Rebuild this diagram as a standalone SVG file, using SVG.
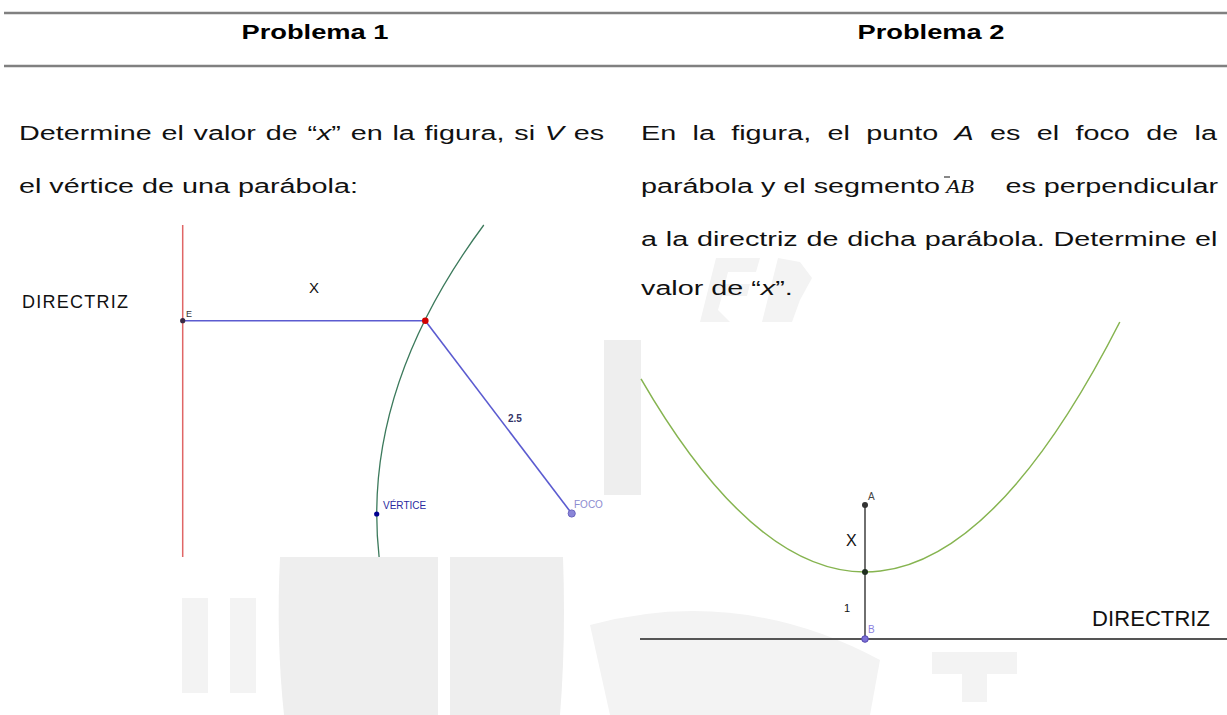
<svg xmlns="http://www.w3.org/2000/svg" width="1227" height="715" viewBox="0 0 1227 715">
<style>
.hd{font:bold 21px "Liberation Sans",Arial,sans-serif;fill:#000}
.bt{font:21px "Liberation Sans",Arial,sans-serif;fill:#111}
.rule{stroke:#808080;stroke-width:2.5}
.wm{fill:#eeeeee}
.wl{fill:#f3f3f3}
.lbl{font-family:"Liberation Sans",Arial,sans-serif}
.seg{stroke:#5b5bd0;stroke-width:1.6;fill:none}
</style>
<rect width="1227" height="715" fill="#fff"/>
<g id="watermark">
<rect class="wm" x="604" y="340" width="37" height="155"/>
<path class="wl" d="M700,322 L716,258 L760,258 L756,272 L728,272 L725,284 L750,284 L747,296 L722,296 L718,310 L730,322 Z"/>
<path class="wl" d="M762,322 L778,258 L800,262 L812,278 L800,300 L792,322 Z"/>
<path class="wm" d="M280,557 L438,557 L438,715 L284,715 Q276,640 280,557 Z"/>
<path class="wm" d="M450,557 L563,557 Q566,640 560,715 L450,715 Z"/>
<path class="wl" d="M590,625 Q740,585 880,660 L870,715 L610,715 Z"/>
<rect class="wl" x="932" y="652" width="85" height="22"/>
<rect class="wl" x="962" y="652" width="25" height="50"/>
<rect class="wl" x="182" y="598" width="26" height="95"/>
<rect class="wl" x="230" y="598" width="26" height="95"/>
</g>
<g id="header">
<line class="rule" x1="4" y1="13" x2="1227" y2="13"/>
<line class="rule" x1="4" y1="66" x2="1227" y2="66"/>
<text class="hd" transform="translate(315 39) scale(1.3 1)" text-anchor="middle">Problema 1</text>
<text class="hd" transform="translate(931 39) scale(1.3 1)" text-anchor="middle">Problema 2</text>
</g>
<g id="text-p1">
<text class="bt" transform="translate(19 140) scale(1.37 1)" word-spacing="1.3">Determine el valor de “<tspan font-style="italic">x</tspan>” en la figura, si <tspan font-style="italic">V</tspan> es</text>
<text class="bt" transform="translate(19 193) scale(1.37 1)">el vértice de una parábola:</text>
</g>
<g id="text-p2">
<text class="bt" transform="translate(641 140) scale(1.37 1)" word-spacing="6.1">En la figura, el punto <tspan font-style="italic">A</tspan> es el foco de la</text>
<text class="bt" transform="translate(641 193) scale(1.37 1)">parábola y el segmento</text>
<text transform="translate(946 193) scale(1.2 1)" style="font:italic 19px 'Liberation Serif',serif;fill:#111">AB</text>
<line x1="944" y1="177" x2="950" y2="177" stroke="#111" stroke-width="1"/>
<text class="bt" transform="translate(1218 193) scale(1.37 1)" text-anchor="end">es perpendicular</text>
<text class="bt" transform="translate(641 246) scale(1.37 1)" word-spacing="0.6">a la directriz de dicha parábola. Determine el</text>
<text class="bt" transform="translate(641 295) scale(1.37 1)">valor de “<tspan font-style="italic">x</tspan>”.</text>
</g>
<g id="figure1">
<g id="directrix1">
<line x1="182.7" y1="225" x2="182.7" y2="557" stroke="#e06666" stroke-width="1.5"/>
<text class="lbl" x="22" y="308" font-size="18" textLength="106" fill="#111">DIRECTRIZ</text>
</g>
<g id="parabola1"><path d="M483.8,225 Q360.8,391 379.1,557" fill="none" stroke="#3c7a5c" stroke-width="1.3"/></g>
<g id="connectors1">
<line class="seg" x1="182.7" y1="320.7" x2="425.3" y2="320.7"/>
<line class="seg" x1="425.3" y1="320.7" x2="571.7" y2="513.5"/>
</g>
<g id="pointE"><circle cx="182.7" cy="320.7" r="2.6" fill="#3a2a44"/><text class="lbl" x="186" y="317" font-size="9" fill="#333">E</text></g>
<text class="lbl" x="309" y="293" font-size="15" fill="#111">X</text>
<g id="pointP"><circle cx="425.3" cy="320.7" r="3.3" fill="#d10000"/></g>
<text class="lbl" x="508" y="422" font-size="10" font-weight="bold" fill="#333366">2.5</text>
<g id="vertice"><circle cx="376.7" cy="514" r="2.6" fill="#000090"/><text class="lbl" x="383" y="509" font-size="10" fill="#2a2aa0">VÉRTICE</text></g>
<g id="foco"><circle cx="571.7" cy="513.5" r="3.6" fill="#8a85d8" stroke="#6a64c0" stroke-width="1"/><text class="lbl" x="574" y="508" font-size="10" fill="#8c8cd0">FOCO</text></g>
</g>
<g id="figure2">
<g id="parabola2"><path d="M641,378.8 Q880.4,791.7 1119.8,322" fill="none" stroke="#86b450" stroke-width="1.5"/></g>
<g id="connectors2">
<line x1="865" y1="505" x2="865" y2="639" stroke="#333" stroke-width="1.4"/>
<line x1="640" y1="639" x2="1227" y2="639" stroke="#555" stroke-width="1.8"/>
</g>
<g id="pointA"><circle cx="865" cy="505" r="3" fill="#333"/><text class="lbl" x="868" y="500" font-size="10" fill="#444">A</text></g>
<text class="lbl" x="846" y="546" font-size="16" fill="#111">X</text>
<g id="vertex2"><circle cx="865" cy="572" r="3" fill="#1e2e1e"/></g>
<text class="lbl" x="844" y="612" font-size="11" fill="#111">1</text>
<g id="pointB"><circle cx="865" cy="639" r="3.3" fill="#7b6fd6" stroke="#5548b0" stroke-width="1"/><text class="lbl" x="868" y="633" font-size="10" fill="#8a7fe0">B</text></g>
<text class="lbl" x="1092" y="626" font-size="22" textLength="118" fill="#111">DIRECTRIZ</text>
</g>
</svg>
